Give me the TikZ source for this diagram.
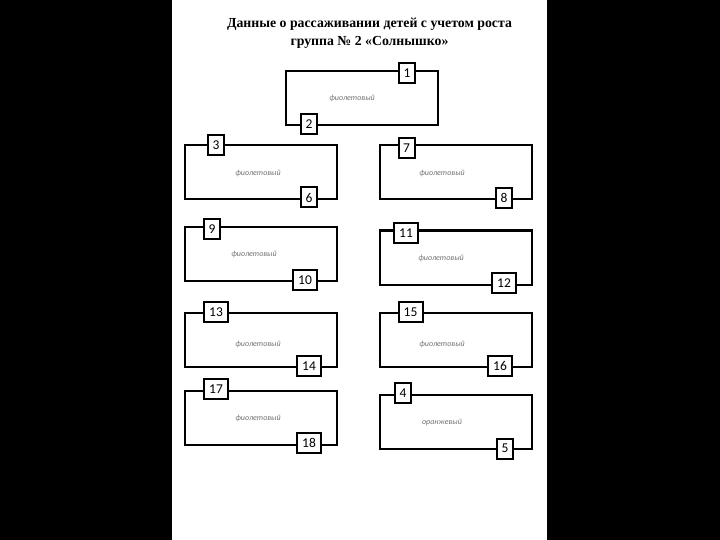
\documentclass[tikz,border=0pt]{standalone}
\usepackage{fontspec}
\setmainfont{Liberation Serif}
\newfontfamily\seatfont{Carlito}
\usetikzlibrary{positioning}
\usetikzlibrary{calc}
\tikzstyle{table} = [rectangle, minimum width=152pt, minimum height=54pt, draw=black, line width=2pt, inner sep=0pt]
\tikzstyle{seat} = [rectangle, minimum width=16pt, minimum height=20pt, draw=black, line width=2pt, fill=white, inner sep=1pt, font=\seatfont\fontsize{13.5}{13.5}\selectfont]
\tikzstyle{colour} = [font=\seatfont\itshape\fontsize{8}{8}\selectfont, text=black!55]

\begin{document}
\begin{tikzpicture}[x=1pt, y=-1pt]
    % page and dark margins
    \fill[black] (0,0) rectangle (720,540);
    \fill[white] (172,0) rectangle (547,540);
    \useasboundingbox (0,0) rectangle (720,540);

    % title
    \node[align=center, font=\bfseries\fontsize{13.8}{18}\selectfont] at (369.5, 33) (title)
        {Данные о рассаживании детей с учетом роста\\группа № 2 «Солнышко»};

    % --- top table ---
    \node[table] at (362, 98) (table_top) {};
    \node[colour] at (352, 98) (colour_top) {фиолетовый};
    \node[seat] at (407, 73) (seat_1) {1};
    \node[seat] at (309, 124) (seat_2) {2};

    % --- row 2 ---
    \node[table] at (260.5, 172.5) (table_a) {};
    \node[colour] at (258, 173) (colour_a) {фиолетовый};
    \node[seat] at (216, 145) (seat_3) {3};
    \node[seat] at (309, 197.5) (seat_6) {6};

    \node[table] at (455.5, 172.5) (table_b) {};
    \node[colour] at (442, 173) (colour_b) {фиолетовый};
    \node[seat] at (406.5, 148) (seat_7) {7};
    \node[seat] at (504, 198) (seat_8) {8};

    % --- row 3 ---
    \node[table] at (260.5, 254) (table_c) {};
    \node[colour] at (254, 254) (colour_c) {фиолетовый};
    \node[seat] at (212, 229) (seat_9) {9};
    \node[seat, minimum width=24pt] at (305, 280) (seat_10) {10};

    \node[table] at (455.5, 257.5) (table_d) {};
    \node[colour] at (441, 258) (colour_d) {фиолетовый};
    \node[seat, minimum width=24pt] at (406, 233) (seat_11) {11};
    \node[seat, minimum width=24pt] at (504, 283) (seat_12) {12};

    % --- row 4 ---
    \node[table] at (260.5, 340) (table_e) {};
    \node[colour] at (258, 344) (colour_e) {фиолетовый};
    \node[seat, minimum width=24pt] at (216, 312) (seat_13) {13};
    \node[seat, minimum width=24pt] at (309, 366) (seat_14) {14};

    \node[table] at (455.5, 340) (table_f) {};
    \node[colour] at (442, 344) (colour_f) {фиолетовый};
    \node[seat, minimum width=24pt] at (410.5, 312) (seat_15) {15};
    \node[seat, minimum width=24pt] at (500, 366) (seat_16) {16};

    % --- row 5 ---
    \node[table] at (260.5, 417.5) (table_g) {};
    \node[colour] at (258, 418) (colour_g) {фиолетовый};
    \node[seat, minimum width=24pt] at (216, 389) (seat_17) {17};
    \node[seat, minimum width=24pt] at (309, 443) (seat_18) {18};

    \node[table] at (455.5, 421.5) (table_h) {};
    \node[colour] at (442, 422) (colour_h) {оранжевый};
    \node[seat] at (403, 393) (seat_4) {4};
    \node[seat] at (505, 448.5) (seat_5) {5};

\end{tikzpicture}
\end{document}
